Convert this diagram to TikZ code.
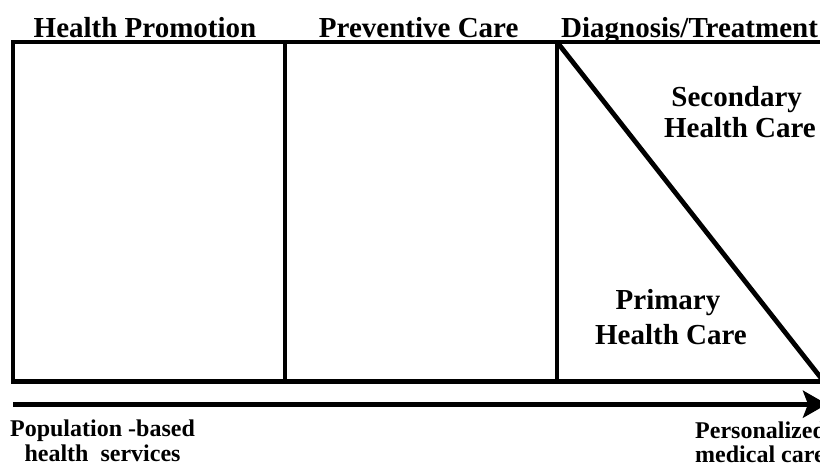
\documentclass[tikz,border=0pt]{standalone}
\usepackage{fontspec}
\setmainfont{Liberation Serif}
\usetikzlibrary{arrows.meta}

\tikzset{
  frameline/.style={line width=4.8bp,line cap=rect},
  headlbl/.style={inner sep=0pt,font=\fontsize{29bp}{31bp}\selectfont\bfseries},
  carelbl/.style={inner sep=0pt,anchor=base,font=\fontsize{29bp}{31bp}\selectfont\bfseries},
  footlbl/.style={inner sep=0pt,font=\fontsize{24bp}{26bp}\selectfont\bfseries}
}

\begin{document}
\begin{tikzpicture}[x=1bp,y=1bp]
	\useasboundingbox (0,0) rectangle (820,471);
	% corners of the frame
	\coordinate (tl) at (13,429);
	\coordinate (bl) at (13,89.2);
	\coordinate (tr) at (826,429);
	\coordinate (br) at (826,89.2);
	\coordinate (d1t) at (285,429);
	\coordinate (d1b) at (285,89.2);
	\coordinate (d2t) at (557,429);
	\coordinate (d2b) at (557,89.2);
	\coordinate (diagend) at (824,89.2);
	\draw[frameline] (tl) rectangle (br);
	\draw[frameline] (d1t) -- (d1b);
	\draw[frameline] (d2t) -- (d2b);
	\draw[line width=4.8bp] (d2t) -- (diagend);

	% headings
	\node[headlbl,anchor=base] (promo) at (145,433.7) {Health Promotion};
	\node[headlbl,anchor=base] (prev) at (418.7,433.7) {Preventive Care};
	\node[headlbl,anchor=base west] (diag) at (561,433.7) {Diagnosis/Treatment};

	% care levels
	\node[carelbl] (sec1) at (736.7,364.5) {Secondary};
	\node[carelbl] (sec2) at (740,333.8) {Health Care};
	\node[carelbl] (prim1) at (668,161.8) {Primary};
	\node[carelbl] (prim2) at (671,126) {Health Care};

	% axis
	\coordinate (axstart) at (13,66.8);
	\coordinate (axend) at (827,66.8);
	\draw[line width=4.8bp,-{Stealth[length=24bp,width=27bp,inset=5bp]}] (axstart) -- (axend);

	\node[footlbl,anchor=base] (pop1) at (102.5,34) {Population -based};
	\node[footlbl,anchor=base] (pop2) at (102.5,9) {health\ \ services};
	\node[footlbl,anchor=base west] (pers1) at (695,32) {Personalized};
	\node[footlbl,anchor=base west] (pers2) at (695,8) {medical care};
\end{tikzpicture}
\end{document}
